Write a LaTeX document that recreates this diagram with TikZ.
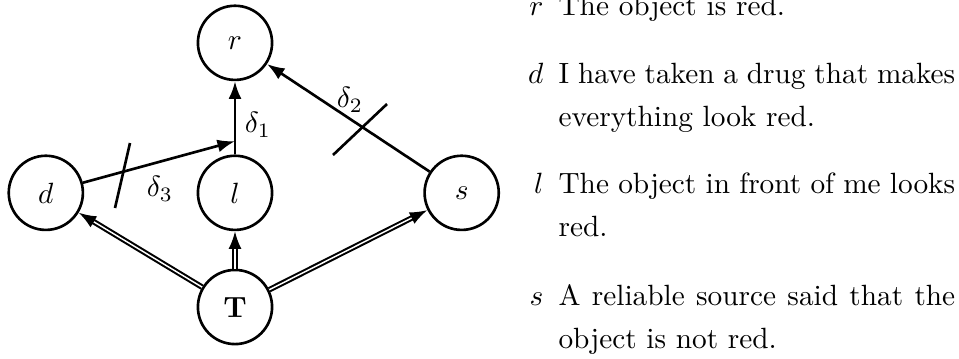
\documentclass[tikz,border=0pt]{standalone}
\usepackage{amsmath}
\usetikzlibrary{arrows.meta, positioning}
\tikzset{
  prop/.style={circle, draw, line width=0.9pt, minimum size=0.89cm, inner sep=0pt},
  defeat/.style={line width=0.9pt, -{Latex[length=6pt, width=4.4pt]}},
  strict/.style={line width=0.7pt, double, double distance=0.5pt, -{Latex[length=6pt, width=4.4pt]}},
  cut/.style={line width=0.9pt},
  tag/.style={anchor=base east, inner sep=0pt},
  desc/.style={anchor=base west, inner sep=0pt, text width=4.76cm, align=justify, font=\fontsize{10}{15}\selectfont},
}

\begin{document}
\begin{tikzpicture}
\useasboundingbox (-2.82,-0.612) rectangle (8.688,3.684);
% argument graph
\node[prop] (T) at (0,0) {$\mathbf{T}$};
\node[prop] (l) at (0,1.37) {$l$};
\node[prop] (d) at (-2.27,1.37) {$d$};
\node[prop] (s) at (2.72,1.37) {$s$};
\node[prop] (r) at (0,3.17) {$r$};
\coordinate (j) at (0,1.99);
\draw[defeat] (l) -- (r);
\draw[defeat] (d) -- (j);
\draw[defeat] (s) -- (r);
\draw[strict] (T) -- (d);
\draw[strict] (T) -- (l);
\draw[strict] (T) -- (s);
\draw[cut] (-1.44,1.188) -- (-1.26,1.968);
\draw[cut] (1.176,1.824) -- (1.824,2.436);
\node (d1) at (0.276,2.184) {$\delta_1$};
\node (d2) at (1.38,2.484) {$\delta_2$};
\node (d3) at (-0.9,1.416) {$\delta_3$};
% legend
\node[tag] (kr) at (3.708,3.504) {$r$};
\node[desc] (tr) at (3.876,3.504) {The object is red.};
\node[tag] (kd) at (3.708,2.688) {$d$};
\node[desc] (td) at (3.876,2.688) {I have taken a drug that makes\linebreak everything look red.};
\node[tag] (kl) at (3.708,1.368) {$l$};
\node[desc] (tl) at (3.876,1.368) {The object in front of me looks\linebreak red.};
\node[tag] (ks) at (3.708,0.024) {$s$};
\node[desc] (ts) at (3.876,0.024) {A reliable source said that the\linebreak object is not red.};
\end{tikzpicture}
\end{document}
